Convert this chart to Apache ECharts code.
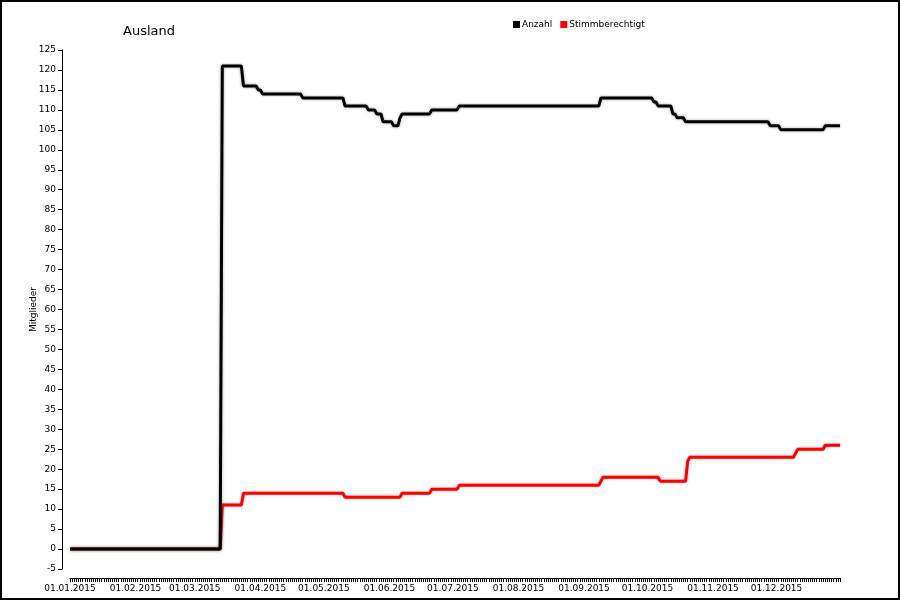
<!DOCTYPE html>
<html>
<head>
<meta charset="utf-8">
<script src="https://cdn.jsdelivr.net/npm/echarts@6/dist/echarts.min.js"></script>
<style>
  html, body { margin: 0; padding: 0; background: #fff; }
  #chart { width: 900px; height: 600px; }
</style>
</head>
<body>
<div id="chart"></div>
<script>
// Tage des Jahres 2015 (Kategorien)
var year = 2015;
var dayCount = 365;

// Anzahl: [Tag-Index ab 01.01., Wert ab diesem Tag]
var anzahlDays   = [0, 72, 82, 89, 91, 110, 130, 141, 145, 148, 153, 156, 157, 171, 184, 251, 276, 278, 285, 287, 291, 331, 336, 357];
var anzahlValues = [0, 121, 116, 115, 114, 113, 111, 110, 109, 107, 106, 108, 109, 110, 111, 113, 112, 111, 109, 108, 107, 106, 105, 106];

// Stimmberechtigt: [Tag-Index, Wert ab diesem Tag]
var stimmDays   = [0, 72, 82, 130, 157, 171, 184, 251, 252, 279, 292, 293, 343, 344, 357];
var stimmValues = [0, 11, 14, 13, 14, 15, 16, 17, 18, 17, 22, 23, 24, 25, 26];

var yTicks = { min: -5, max: 125, interval: 5 };

// Datumsliste bauen
function pad(n) { return n < 10 ? '0' + n : '' + n; }
var dates = [];
for (var i = 0; i < dayCount; i++) {
  var d = new Date(year, 0, 1 + i);
  dates.push(pad(d.getDate()) + '.' + pad(d.getMonth() + 1) + '.' + d.getFullYear());
}

// Stufen in Tageswerte umsetzen
function expand(days, values) {
  var out = [];
  var k = 0;
  for (var i = 0; i < dayCount; i++) {
    while (k + 1 < days.length && days[k + 1] <= i) k++;
    out.push(values[k]);
  }
  return out;
}

var myChart = echarts.init(document.getElementById('chart'));

var font = 'DejaVu Sans';

var option = {
  backgroundColor: '#fff',
  animation: false,
  textStyle: { fontFamily: font },
  graphic: [{
    type: 'rect',
    shape: { x: 1, y: 1, width: 898, height: 598 },
    style: { fill: 'none', stroke: '#000', lineWidth: 2 },
    silent: true
  }],
  title: {
    text: 'Ausland',
    left: 118,
    top: 20,
    textStyle: { fontFamily: font, fontSize: 13, fontWeight: 'normal', color: '#000' }
  },
  legend: {
    left: 508,
    top: 15,
    icon: 'rect',
    itemWidth: 7,
    itemHeight: 7,
    itemGap: 8,
    textStyle: { fontFamily: font, fontSize: 9, color: '#000', padding: [0, 0, 0, -3] },
    data: ['Anzahl', 'Stimmberechtigt']
  },
  grid: {
    left: 70,
    right: 60,
    top: 50,
    bottom: 31,
    containLabel: false
  },
  xAxis: {
    type: 'category',
    data: dates,
    boundaryGap: false,
    offset: 9,
    axisLine: { show: true, onZero: false, lineStyle: { color: '#000', width: 1 } },
    axisTick: { show: true, interval: 0, length: 4, lineStyle: { color: '#000' } },
    axisLabel: {
      interval: function (idx, val) { return val.slice(0, 2) === '01'; },
      fontFamily: font,
      fontSize: 9,
      color: '#000',
      margin: 6
    },
    splitLine: { show: false }
  },
  yAxis: {
    type: 'value',
    min: yTicks.min,
    max: yTicks.max,
    interval: yTicks.interval,
    offset: 8,
    name: 'Mitglieder',
    nameLocation: 'middle',
    nameGap: 24,
    nameMoveOverlap: false,
    nameTextStyle: { fontFamily: font, fontSize: 9, color: '#000' },
    axisLine: { show: true, lineStyle: { color: '#000', width: 1 } },
    axisTick: { show: true, length: 4, lineStyle: { color: '#000' } },
    axisLabel: { fontFamily: font, fontSize: 9, color: '#000', margin: 6 },
    splitLine: { show: false }
  },
  series: [{
    name: 'Anzahl',
    type: 'line',
    data: expand(anzahlDays, anzahlValues),
    showSymbol: false,
    itemStyle: { color: '#000' },
    lineStyle: { color: '#000', width: 3, shadowColor: 'rgba(0,0,0,0.35)', shadowBlur: 3 },
    z: 3
  }, {
    name: 'Stimmberechtigt',
    type: 'line',
    data: expand(stimmDays, stimmValues),
    showSymbol: false,
    itemStyle: { color: '#ff0000' },
    lineStyle: { color: '#ff0000', width: 3, shadowColor: 'rgba(0,0,0,0.3)', shadowBlur: 3 },
    z: 2
  }]
};

myChart.setOption(option);
</script>
</body>
</html>
